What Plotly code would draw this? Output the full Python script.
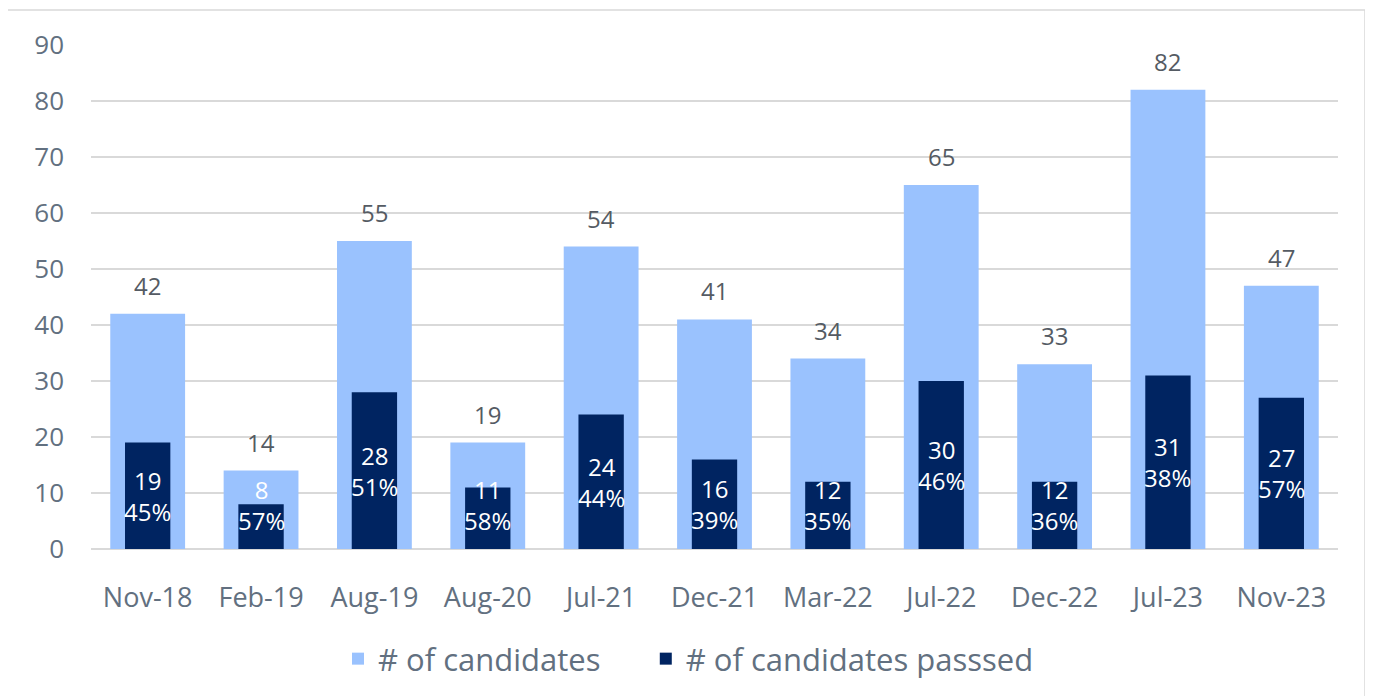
import plotly.graph_objects as go

categories = ["Nov-18", "Feb-19", "Aug-19", "Aug-20", "Jul-21", "Dec-21",
              "Mar-22", "Jul-22", "Dec-22", "Jul-23", "Nov-23"]
candidates = [42, 14, 55, 19, 54, 41, 34, 65, 33, 82, 47]
passed = [19, 8, 28, 11, 24, 16, 12, 30, 12, 31, 27]
pass_rate = ["45%", "57%", "51%", "58%", "44%", "39%", "35%", "46%", "36%", "38%", "57%"]
series_names = ["# of candidates", "# of candidates passsed"]

LIGHT = "#9AC2FE"
DARK = "#002461"
TXT = "#627080"
FONT = "Open Sans"

# page body has an 8px margin; plot area target: x 91..1338, y 45..549
L, T, R, B = 83, 37, 43, 155

fig = go.Figure()
fig.add_trace(go.Bar(x=categories, y=candidates, name=series_names[0] + "\u00a0" * 5,
                     marker=dict(color=LIGHT, line=dict(width=0)), width=0.66))
fig.add_trace(go.Bar(x=categories, y=passed, name=series_names[1],
                     marker=dict(color=DARK, line=dict(width=0)), width=0.4))

ann = []
for c, v in zip(categories, candidates):
    ann.append(dict(x=c, y=v, text=str(v), showarrow=False, yanchor="bottom",
                    yshift=10, font=dict(size=24, color="#555b63", family=FONT)))
for c, v, r in zip(categories, passed, pass_rate):
    ann.append(dict(x=c, y=max(v / 2, 7.9), text=f"{v}<br>{r}", showarrow=False,
                    yanchor="middle", font=dict(size=24, color="white", family=FONT)))

pw = 1373 - L - R
ph = 696 - T - B
fig.update_layout(
    width=1373, height=696,
    barmode="overlay",
    plot_bgcolor="white", paper_bgcolor="white",
    margin=dict(l=L, r=R, t=T, b=B),
    font=dict(family=FONT, color=TXT, size=26),
    showlegend=True,
    legend=dict(orientation="h", x=(338 - 91) / pw, xanchor="left",
                y=-(659 - 549 - 27) / ph, yanchor="top",
                font=dict(size=31, color=TXT), traceorder="normal"),
    annotations=ann,
    shapes=[dict(type="rect", xref="paper", yref="paper",
                 x0=(6 - 91) / pw, x1=(1365 - 91) / pw,
                 y0=-0.4, y1=(549 - 10) / ph,
                 line=dict(color="#D9D9D9", width=1.5), fillcolor="rgba(0,0,0,0)",
                 layer="below")],
)
fig.update_yaxes(range=[0, 90], dtick=10, showgrid=True, gridcolor="#D9D9D9",
                 gridwidth=1.5, zeroline=True, zerolinecolor="#D9D9D9", zerolinewidth=1.5,
                 ticklabelstandoff=26, tickfont=dict(size=26, color=TXT), showline=False)
fig.update_xaxes(tickfont=dict(size=27, color=TXT), ticklabelstandoff=30, showline=False,
                 range=[-0.5, 10.5])

fig.write_html("out.html")
